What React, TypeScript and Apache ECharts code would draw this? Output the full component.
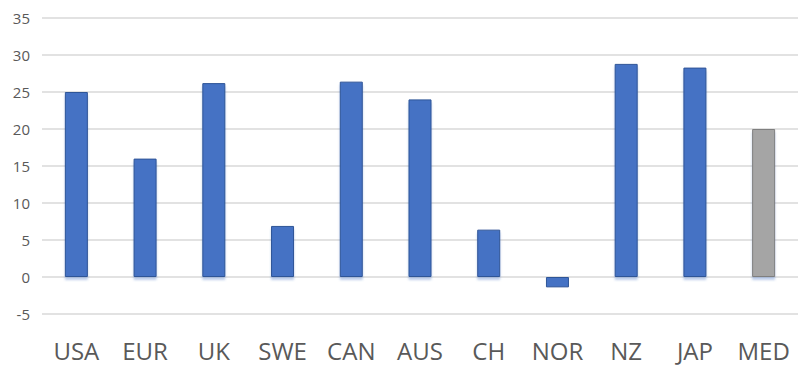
import React, { useEffect, useRef } from "react";
import * as echarts from "echarts";

const categories = ["USA", "EUR", "UK", "SWE", "CAN", "AUS", "CH", "NOR", "NZ", "JAP", "MED"];
const values = [25.0, 16.0, 26.2, 6.9, 26.4, 24.0, 6.4, -1.4, 28.8, 28.3, 20.0];
const highlight = "MED";

const BLUE = "#4472C4";
const BLUE_EDGE = "#2F5597";
const GRAY = "#A5A5A5";
const GRAY_EDGE = "#7F7F7F";

export default function App() {
  const ref = useRef<HTMLDivElement>(null);

  useEffect(() => {
    if (!ref.current) return;
    const chart = echarts.init(ref.current, null, { renderer: "svg" });
    chart.setOption({
      animation: false,
      backgroundColor: "#ffffff",
      grid: { left: 42, right: 2, top: 18, bottom: 51, containLabel: false },
      xAxis: {
        type: "category",
        data: categories,
        axisLine: { show: false, onZero: false },
        axisTick: { show: false },
        axisLabel: {
          color: "#595959",
          fontFamily: "Open Sans",
          fontSize: 24,
          margin: 24,
        },
      },
      yAxis: {
        type: "value",
        min: -5,
        max: 35,
        interval: 5,
        axisLine: { show: false },
        axisTick: { show: false },
        splitLine: { lineStyle: { color: "#D9D9D9", width: 1.5 } },
        axisLabel: {
          color: "#595959",
          fontFamily: "Open Sans",
          fontSize: 15,
          margin: 12,
        },
      },
      series: [
        {
          type: "bar",
          barWidth: 23,
          data: values.map((v, i) => {
            const isMed = categories[i] === highlight;
            return {
              value: v,
              itemStyle: {
                color: isMed ? GRAY : BLUE,
                borderColor: isMed ? GRAY_EDGE : BLUE_EDGE,
                borderWidth: 1,
                shadowColor: v >= 0 ? "rgba(68,114,196,0.35)" : "rgba(0,0,0,0)",
                shadowOffsetY: 3,
                shadowBlur: 2,
              },
            };
          }),
        },
      ],
    });
    return () => chart.dispose();
  }, []);

  return <div ref={ref} style={{ width: 800, height: 365, position: "absolute", left: 0, top: 0 }} />;
}
